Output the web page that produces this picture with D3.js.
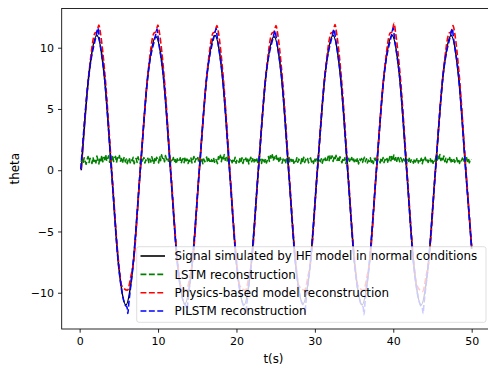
<!DOCTYPE html>
<html>
<head>
<meta charset="utf-8">
<script src="https://cdn.jsdelivr.net/npm/d3@7"></script>
<style>
  body { margin: 0; background: #fff; }
  svg { display: block; }
  text { font-family: "DejaVu Sans", sans-serif; fill: #000; }
</style>
</head>
<body>
<svg id="chart" width="488" height="368"></svg>
<script>
// values: [t, theta]
const hfSignal = [
  [0.2, 0.0], [1.2, 7.9], [2.2, 11.0], [3.13, 7.8], [4.06, 0], [4.98, -7.8], [5.9, -11.0], [6.8, -7.8], [7.73, 0],
  [8.73, 7.9], [9.73, 10.9], [10.66, 7.8], [11.59, 0], [12.51, -7.8], [13.43, -10.9], [14.33, -7.8], [15.26, 0],
  [16.26, 7.9], [17.26, 11.0], [18.19, 7.8], [19.12, 0], [20.04, -7.8], [20.96, -11.0], [21.86, -7.8], [22.79, 0],
  [23.79, 7.9], [24.79, 10.9], [25.72, 7.8], [26.65, 0], [27.57, -7.8], [28.49, -10.9], [29.39, -7.8], [30.32, 0],
  [31.32, 7.9], [32.32, 11.0], [33.25, 7.8], [34.18, 0], [35.1, -7.8], [36.02, -11.0], [36.92, -7.8], [37.85, 0],
  [38.85, 7.9], [39.85, 11.0], [40.78, 7.8], [41.71, 0], [42.63, -7.8], [43.55, -11.0], [44.45, -7.8], [45.38, 0],
  [46.38, 7.9], [47.38, 11.0], [48.31, 7.8], [49.24, 0], [50.0, -6.4]
];

const physicsRecon = [
  [0.2, 0.1], [1.2, 8.0], [1.95, 11.2], [2.2, 11.3], [2.45, 11.85], [2.65, 11.2], [3.2, 8.0], [4.1, 0.0], [5.0, -7.7], [5.35, -9.4], [6.1, -9.8], [6.55, -8.6], [6.85, -7.6], [7.73, 0],
  [8.73, 8.0], [9.48, 11.2], [9.73, 11.3], [9.98, 11.85], [10.18, 11.2], [10.73, 8.0], [11.63, 0], [12.53, -7.7], [12.88, -9.4], [13.63, -9.8], [14.08, -8.6], [14.38, -7.6], [15.26, 0],
  [16.26, 8.0], [17.01, 11.2], [17.26, 11.3], [17.51, 11.8], [17.71, 11.2], [18.26, 8.0], [19.16, 0], [20.06, -7.7], [20.41, -9.4], [21.16, -9.8], [21.61, -8.6], [21.91, -7.6], [22.79, 0],
  [23.79, 8.0], [24.54, 11.2], [24.79, 11.3], [25.04, 11.8], [25.24, 11.2], [25.79, 8.0], [26.69, 0], [27.59, -7.7], [27.94, -9.4], [28.69, -9.8], [29.14, -8.6], [29.44, -7.6], [30.32, 0],
  [31.32, 8.0], [32.07, 11.2], [32.32, 11.3], [32.57, 11.9], [32.77, 11.2], [33.32, 8.0], [34.22, 0], [35.12, -7.7], [35.47, -9.4], [36.22, -9.8], [36.67, -8.6], [36.97, -7.6], [37.85, 0],
  [38.85, 8.0], [39.6, 11.2], [39.85, 11.3], [40.1, 12.0], [40.3, 11.2], [40.85, 8.0], [41.75, 0], [42.65, -7.7], [43.0, -9.4], [43.75, -9.9], [44.2, -8.6], [44.5, -7.6], [45.38, 0],
  [46.38, 8.0], [47.13, 11.2], [47.38, 11.3], [47.63, 11.8], [47.83, 11.2], [48.38, 8.0], [49.28, 0], [50.0, -6.2]
];

const pilstmRecon = [
  [0.15, 0.1], [1.2, 7.9], [2.1, 10.95], [2.35, 11.6], [2.48, 10.9], [3.15, 7.7], [4.06, 0], [4.98, -7.9], [5.8, -11.0], [6.05, -11.2], [6.15, -11.7], [6.25, -11.0], [6.8, -7.8], [7.73, 0],
  [8.73, 7.9], [9.63, 10.85], [9.88, 11.5], [10.01, 10.8], [10.68, 7.7], [11.59, 0], [12.51, -7.9], [13.33, -10.9], [13.58, -11.1], [13.68, -11.7], [13.78, -10.9], [14.33, -7.8], [15.26, 0],
  [16.26, 7.9], [17.16, 10.95], [17.41, 11.55], [17.54, 10.9], [18.21, 7.7], [19.12, 0], [20.04, -7.9], [20.86, -11.0], [21.11, -11.2], [21.21, -11.75], [21.31, -11.0], [21.86, -7.8], [22.79, 0],
  [23.79, 7.9], [24.69, 10.85], [24.94, 11.4], [25.07, 10.8], [25.74, 7.7], [26.65, 0], [27.57, -7.9], [28.39, -10.9], [28.64, -11.1], [28.74, -11.7], [28.84, -10.9], [29.39, -7.8], [30.32, 0],
  [31.32, 7.9], [32.22, 10.95], [32.47, 11.5], [32.6, 10.9], [33.27, 7.7], [34.18, 0], [35.1, -7.9], [35.92, -11.0], [36.17, -11.2], [36.27, -11.8], [36.37, -11.0], [36.92, -7.8], [37.85, 0],
  [38.85, 7.9], [39.75, 10.95], [40.0, 11.6], [40.13, 10.9], [40.8, 7.7], [41.71, 0], [42.63, -7.9], [43.45, -11.0], [43.7, -11.2], [43.8, -11.7], [43.9, -11.0], [44.45, -7.8], [45.38, 0],
  [46.38, 7.9], [47.28, 10.95], [47.53, 11.55], [47.66, 10.9], [48.33, 7.7], [49.24, 0], [50.0, -6.4]
];

// LSTM output, sampled every 0.125 s from t = 0.2
const lstmValues = [
  0.66, 0.94, 0.58, 1.02, 0.75, 0.49, 0.88, 1.11, 0.63, 0.97,
  0.81, 0.55, 1.06, 0.72, 0.93, 0.60, 1.15, 0.84, 0.52, 0.99,
  0.77, 1.21, 0.69, 1.04, 0.87, 1.28, 0.74, 0.96, 1.17, 0.65,
  1.08, 0.83, 1.24, 0.71, 0.98, 1.13, 0.62, 1.02, 0.86, 1.19,
  0.73, 0.95, 0.57, 0.89, 1.07, 0.68, 0.92, 0.54, 0.85, 1.01,
  0.61, 0.90, 0.76, 1.05, 0.53, 0.82, 0.97, 0.64, 1.09, 0.79,
  0.56, 0.93, 0.70, 0.88, 1.03, 0.59, 0.84, 0.74, 0.98, 0.62,
  0.91, 0.67, 1.10, 0.80, 0.51, 0.94, 0.72, 1.06, 0.85, 0.60,
  1.14, 0.78, 1.25, 0.92, 1.05, 0.69, 1.19, 0.87, 1.00, 0.73,
  0.96, 0.58, 0.89, 0.75, 1.03, 0.64, 0.86, 0.52, 0.93, 0.79,
  0.68, 1.01, 0.57, 0.84, 0.95, 0.62, 1.08, 0.76, 0.90, 0.55,
  0.83, 0.71, 0.99, 0.60, 0.88, 1.12, 0.66, 0.94, 0.78, 1.04,
  0.59, 0.87, 0.74, 1.00, 0.53, 0.91, 0.69, 0.82, 1.07, 0.63,
  0.95, 0.77, 0.58, 0.86, 0.72, 1.02, 0.65, 0.93, 0.80, 0.54,
  1.09, 0.84, 1.22, 0.70, 1.16, 0.93, 1.27, 0.81, 1.04, 0.76,
  1.13, 0.68, 0.97, 0.85, 0.61, 0.92, 0.74, 1.05, 0.57, 0.88,
  0.79, 0.63, 0.96, 0.71, 1.01, 0.55, 0.87, 0.75, 0.99, 0.66,
  0.90, 0.52, 0.83, 1.06, 0.69, 0.94, 0.60, 0.86, 0.77, 1.03,
  0.64, 0.98, 0.73, 0.89, 0.56, 1.00, 0.81, 0.67, 0.95, 0.59,
  0.85, 1.11, 0.72, 1.18, 0.91, 1.26, 0.78, 1.07, 0.88, 1.20,
  0.74, 0.97, 0.62, 1.03, 0.80, 0.58, 0.92, 0.69, 0.87, 0.53,
  0.96, 0.76, 1.04, 0.61, 0.89, 0.73, 0.99, 0.57, 0.84, 0.70,
  1.02, 0.65, 0.90, 0.79, 0.54, 0.93, 0.72, 1.06, 0.63, 0.88,
  0.77, 0.95, 0.60, 0.86, 1.01, 0.68, 0.83, 0.56, 0.97, 0.75,
  0.91, 0.62, 1.08, 0.81, 0.70, 0.94, 0.58, 0.89, 0.74, 1.00,
  0.66, 0.85, 1.13, 0.78, 1.23, 0.95, 1.17, 0.72, 1.05, 0.87,
  1.21, 0.80, 0.99, 0.67, 1.10, 0.84, 0.61, 0.93, 0.76, 1.02,
  0.55, 0.88, 0.71, 0.97, 0.63, 0.85, 1.04, 0.69, 0.92, 0.58,
  0.83, 0.74, 1.00, 0.52, 0.90, 0.78, 0.96, 0.64, 0.87, 1.05,
  0.70, 0.94, 0.59, 0.82, 0.73, 1.01, 0.66, 0.89, 0.55, 0.97,
  0.79, 1.07, 0.68, 0.91, 0.84, 0.60, 0.98, 0.75, 1.03, 0.62,
  0.88, 0.71, 0.95, 0.57, 0.86, 1.12, 0.77, 1.19, 0.90, 1.24,
  0.82, 1.09, 0.73, 1.15, 0.96, 0.69, 1.02, 0.85, 0.61, 0.93,
  0.76, 0.99, 0.54, 0.87, 0.72, 1.04, 0.65, 0.91, 0.80, 0.58,
  0.94, 0.67, 0.84, 1.01, 0.60, 0.89, 0.75, 0.97, 0.53, 0.86,
  0.71, 1.05, 0.78, 0.92, 0.63, 0.83, 1.00, 0.68, 0.95, 0.57,
  0.88, 0.74, 1.11, 0.81, 1.20, 0.93, 1.28, 0.79, 1.06, 0.85,
  1.16, 0.70, 0.98, 0.62, 0.90, 0.76, 1.03, 0.59, 0.87, 0.73,
  0.96, 0.64, 0.84, 1.02, 0.69, 0.92, 0.56, 0.89, 0.78, 1.00,
  0.67, 0.94, 0.81, 1.08, 0.72, 0.97, 0.61, 0.90, 0.84, 0.75
];
const lstmStart = 0.2, lstmStep = 0.125;

const xTicks = [0, 10, 20, 30, 40, 50];
const yTicks = [-10, -5, 0, 5, 10];
const legendLabels = [
  "Signal simulated by HF model in normal conditions",
  "LSTM reconstruction",
  "Physics-based model reconstruction",
  "PILSTM reconstruction"
];

const svg = d3.select('#chart');
const plot = { left: 61.7, right: 491.2, top: 8.5, bottom: 329 };

const x = d3.scaleLinear().domain([-2.29, 52.49]).range([plot.left, plot.right]);
const y = d3.scaleLinear().domain([-12.96, 13.2]).range([plot.bottom, plot.top]);

svg.append('clipPath').attr('id', 'clip')
  .append('rect')
  .attr('x', plot.left).attr('y', plot.top)
  .attr('width', plot.right - plot.left).attr('height', plot.bottom - plot.top);

const lstm = lstmValues.map((v, i) => [lstmStart + i * lstmStep, v]).filter(d => d[0] <= 50);

const smooth = d3.line().x(d => x(d[0])).y(d => y(d[1])).curve(d3.curveMonotoneX);
const straight = d3.line().x(d => x(d[0])).y(d => y(d[1]));

const series = [
  { data: hfSignal, color: '#000000', dash: null, gen: smooth },
  { data: lstm, color: '#008000', dash: '5.9,2.5', gen: straight },
  { data: physicsRecon, color: '#ff0000', dash: '5.9,2.5', gen: smooth },
  { data: pilstmRecon, color: '#0000ff', dash: '5.9,2.5', gen: smooth }
];

const lines = svg.append('g').attr('clip-path', 'url(#clip)');
series.forEach(s => {
  lines.append('path')
    .attr('d', s.gen(s.data))
    .attr('fill', 'none')
    .attr('stroke', s.color)
    .attr('stroke-width', 1.6)
    .attr('stroke-dasharray', s.dash)
    .attr('stroke-linejoin', 'round');
});

// axes
const xAxis = svg.append('g')
  .attr('transform', `translate(0,${plot.bottom})`)
  .call(d3.axisBottom(x).tickValues(xTicks).tickSize(3.7).tickPadding(4));
const yAxis = svg.append('g')
  .attr('transform', `translate(${plot.left},0)`)
  .call(d3.axisLeft(y).tickValues(yTicks).tickSize(3.7).tickPadding(4)
    .tickFormat(d => d < 0 ? '\u2212' + Math.abs(d) : d));

[xAxis, yAxis].forEach(a => {
  a.select('.domain').remove();
  a.selectAll('.tick line').attr('stroke', '#000').attr('stroke-width', 0.85);
  a.selectAll('.tick text').style('font-family', '"DejaVu Sans", sans-serif')
    .style('font-size', '11px').attr('fill', '#000');
});

// spines
svg.append('rect')
  .attr('x', plot.left).attr('y', plot.top)
  .attr('width', plot.right - plot.left).attr('height', plot.bottom - plot.top)
  .attr('fill', 'none').attr('stroke', '#000').attr('stroke-width', 0.85);

svg.append('text')
  .attr('x', (plot.left + plot.right) / 2 - 3).attr('y', 363)
  .attr('text-anchor', 'middle').style('font-size', '11.9px')
  .text('t(s)');
svg.append('text')
  .attr('transform', `translate(19,${(plot.top + plot.bottom) / 2}) rotate(-90)`)
  .attr('text-anchor', 'middle').style('font-size', '11.9px')
  .text('theta');

// legend
const legend = svg.append('g');
legend.append('rect')
  .attr('x', 136.7).attr('y', 246.7).attr('width', 349.3).attr('height', 75.6)
  .attr('rx', 2.2)
  .attr('fill', '#fff').attr('fill-opacity', 0.8)
  .attr('stroke', '#cccccc').attr('stroke-opacity', 0.8).attr('stroke-width', 0.8);

legendLabels.forEach((label, i) => {
  const cy = 256 + i * 18.35;
  legend.append('line')
    .attr('x1', 140.5).attr('x2', 165).attr('y1', cy).attr('y2', cy)
    .attr('stroke', series[i].color).attr('stroke-width', 1.6)
    .attr('stroke-dasharray', series[i].dash);
  legend.append('text')
    .attr('x', 174.5).attr('y', cy + 4.3)
    .style('font-size', '11.9px')
    .text(label);
});
</script>
</body>
</html>
